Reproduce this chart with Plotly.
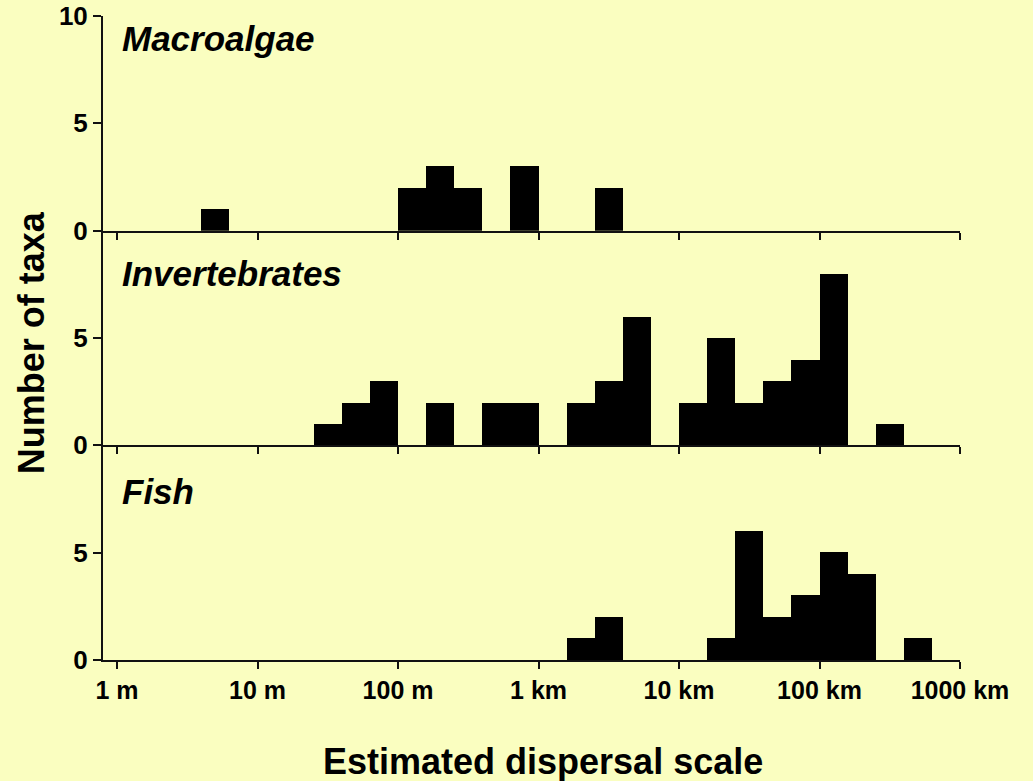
import plotly.graph_objects as go

# Bins: 5 per decade, lower edges in log10(metres) from 0 (1 m) to 6 (1000 km)
bin_width = 0.2
bin_lower = [round(i * bin_width, 1) for i in range(30)]

macroalgae = [0, 0, 0, 1, 0, 0, 0, 0, 0, 0,
              2, 3, 2, 0, 3, 0, 0, 2, 0, 0,
              0, 0, 0, 0, 0, 0, 0, 0, 0, 0]
invertebrates = [0, 0, 0, 0, 0, 0, 0, 1, 2, 3,
                 0, 2, 0, 2, 2, 0, 2, 3, 6, 0,
                 2, 5, 2, 3, 4, 8, 0, 1, 0, 0]
fish = [0, 0, 0, 0, 0, 0, 0, 0, 0, 0,
        0, 0, 0, 0, 0, 0, 1, 2, 0, 0,
        0, 1, 6, 2, 3, 5, 4, 0, 1, 0]

panel_names = ["Macroalgae", "Invertebrates", "Fish"]
tick_pos = [0, 1, 2, 3, 4, 5, 6]
tick_labels = ["1 m", "10 m", "100 m", "1 km", "10 km", "100 km", "1000 km"]

BG = "rgb(250,254,192)"
FONT = "Liberation Sans, Arial, sans-serif"

fig = go.Figure()
centers = [b + bin_width / 2 for b in bin_lower]
for counts, xa, ya in [(macroalgae, "x3", "y3"), (invertebrates, "x2", "y2"), (fish, "x", "y")]:
    fig.add_trace(go.Bar(x=centers, y=counts, width=bin_width, xaxis=xa, yaxis=ya,
                         marker=dict(color="black", line=dict(width=0)),
                         showlegend=False, hoverinfo="x+y"))

xcommon = dict(range=[-0.1, 6], showgrid=False, zeroline=False, showline=True,
               linecolor="#111", linewidth=2, ticks="outside", ticklen=7, tickwidth=2,
               tickcolor="#111", tickvals=tick_pos, ticktext=tick_labels,
               tickfont=dict(family=FONT, size=25, color="black", weight="bold"))
ycommon = dict(range=[0, 10], showgrid=False, zeroline=False, showline=True,
               linecolor="#111", linewidth=2, ticks="outside", ticklen=8, tickwidth=2,
               tickcolor="#111", tickfont=dict(family=FONT, size=26, color="black", weight="bold"))

fig.update_layout(
    width=1033, height=781,
    margin=dict(l=103, r=73, t=16, b=121, autoexpand=False),
    paper_bgcolor=BG, plot_bgcolor=BG,
    bargap=0,
    xaxis=dict(**xcommon, anchor="y"),
    xaxis2=dict(**xcommon, anchor="y2", matches="x", showticklabels=False),
    xaxis3=dict(**xcommon, anchor="y3", matches="x", showticklabels=False),
    yaxis=dict(**ycommon, domain=[0, 1/3], tickvals=[0, 5], anchor="x"),
    yaxis2=dict(**ycommon, domain=[1/3, 2/3], tickvals=[0, 5], anchor="x2"),
    yaxis3=dict(**ycommon, domain=[2/3, 1], tickvals=[0, 5, 10], anchor="x3"),
)

title_y = {"Macroalgae": ("y3", 8.95), "Invertebrates": ("y2", 8.0), "Fish": ("y", 7.85)}
for name in panel_names:
    yref, yv = title_y[name]
    fig.add_annotation(text="<b><i>" + name + "</i></b>", xref="paper", x=0.0198,
                       yref=yref, y=yv, xanchor="left", yanchor="middle", showarrow=False,
                       font=dict(family=FONT, size=35, color="black"))

fig.add_annotation(text="<b>Number of taxa</b>", xref="paper", x=-0.084, yref="paper", y=0.492,
                   xanchor="center", yanchor="middle", textangle=-90, showarrow=False,
                   font=dict(family=FONT, size=36, color="black"))
fig.add_annotation(text="<b>Estimated dispersal scale</b>", xref="paper", x=0.5134, yref="paper", y=-0.157,
                   xanchor="center", yanchor="middle", showarrow=False,
                   font=dict(family=FONT, size=36, color="black"))

fig.write_html("out.html")
